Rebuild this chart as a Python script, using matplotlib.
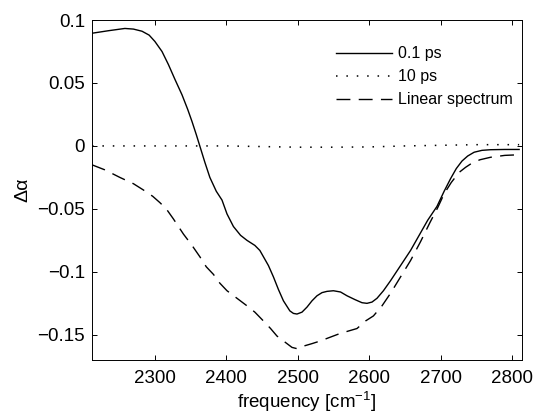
import matplotlib
matplotlib.use("Agg")
import matplotlib.pyplot as plt

plt.rcParams['font.family'] = ['Liberation Sans', 'DejaVu Sans']
plt.rcParams['mathtext.fontset'] = 'custom'
plt.rcParams['mathtext.rm'] = 'Liberation Sans'
plt.rcParams['mathtext.it'] = 'Liberation Sans:italic'

# 0.1 ps pump-probe spectrum
freq_01 = [2212, 2235, 2258, 2270, 2282, 2292, 2300, 2310, 2319, 2328, 2338,
           2346, 2352, 2358, 2364, 2370, 2377, 2386, 2394, 2401, 2410, 2420,
           2429, 2440, 2447, 2452, 2459, 2466, 2473, 2480, 2489, 2494, 2499,
           2506, 2513, 2520, 2527, 2534, 2541, 2550, 2560, 2569, 2580, 2590,
           2597, 2604, 2611, 2620, 2630, 2644, 2658, 2670, 2682, 2695, 2705,
           2714, 2722, 2730, 2738, 2747, 2758, 2770, 2790, 2810]
da_01 = [0.0895, 0.0915, 0.0933, 0.0928, 0.0911, 0.088, 0.083, 0.075, 0.0646,
         0.053, 0.0406, 0.029, 0.0194, 0.009, -0.002, -0.013, -0.025, -0.036,
         -0.043, -0.054, -0.064, -0.071, -0.075, -0.079, -0.083, -0.088,
         -0.095, -0.104, -0.114, -0.123, -0.131, -0.133, -0.1335, -0.132,
         -0.128, -0.123, -0.119, -0.1165, -0.1155, -0.115, -0.116, -0.119,
         -0.122, -0.1245, -0.125, -0.124, -0.121, -0.115, -0.107, -0.095,
         -0.083, -0.071, -0.059, -0.048, -0.036, -0.026, -0.018, -0.012,
         -0.008, -0.005, -0.0035, -0.003, -0.0028, -0.0028]

# 10 ps spectrum (essentially flat)
freq_10 = [2212, 2300, 2400, 2450, 2500, 2550, 2600, 2650, 2700, 2750, 2810]
da_10 = [0.0, 0.0, 0.0, -0.0005, -0.001, -0.001, -0.0008, 0.0, 0.0005, 0.001, 0.001]

# linear absorption spectrum (scaled, inverted)
freq_lin = [2212, 2230, 2251, 2270, 2284, 2297, 2307, 2316, 2326, 2340, 2352,
            2363, 2372, 2382, 2391, 2401, 2415, 2429, 2440, 2452, 2462, 2471,
            2485, 2492, 2499, 2508, 2520, 2531, 2545, 2559, 2571, 2583, 2595,
            2606, 2618, 2630, 2644, 2658, 2672, 2685, 2696, 2705, 2715, 2726,
            2735, 2743, 2755, 2770, 2790, 2810]
da_lin = [-0.015, -0.019, -0.025, -0.030, -0.035, -0.040, -0.045, -0.050,
          -0.058, -0.070, -0.079, -0.088, -0.096, -0.102, -0.109, -0.115,
          -0.121, -0.127, -0.132, -0.139, -0.145, -0.151, -0.157, -0.160,
          -0.161, -0.159, -0.157, -0.155, -0.152, -0.149, -0.147, -0.145,
          -0.139, -0.135, -0.127, -0.117, -0.104, -0.091, -0.076, -0.061,
          -0.049, -0.038, -0.029, -0.021, -0.017, -0.014, -0.011, -0.009,
          -0.0075, -0.007]

xticks = [2300, 2400, 2500, 2600, 2700, 2800]
yticks = [-0.15, -0.1, -0.05, 0, 0.05, 0.1]
ytick_labels = ['\u22120.15', '\u22120.1', '\u22120.05', '0', '0.05', '0.1']

fig = plt.figure(figsize=(5.34, 4.17), dpi=100)
ax = fig.add_axes([0.1723, 0.1367, 0.8052, 0.8153])

ax.plot(freq_01, da_01, color='black', lw=1.0, label='0.1 ps')
ax.plot(freq_10, da_10, color='black', lw=1.1, linestyle=(0, (1, 5.8)), label='10 ps')
ax.plot(freq_lin, da_lin, color='black', lw=1.0, linestyle=(0, (10, 6)),
        label='Linear spectrum')

ax.set_xlim(2212, 2814)
ax.set_ylim(-0.17, 0.1)
ax.set_xticks(xticks)
ax.set_yticks(yticks)
ax.set_yticklabels(ytick_labels)
ax.tick_params(direction='in', top=True, right=True, length=3.6, width=0.7,
               labelsize=13.5)
ax.tick_params(axis='x', pad=7)
ax.tick_params(axis='y', pad=5)
for s in ax.spines.values():
    s.set_linewidth(0.7)

ax.set_xlabel('frequency [cm$^{-1}$]', fontsize=13.5, labelpad=2)
ax.set_ylabel('\u0394\u03b1', fontsize=14, labelpad=4)

ax.legend(loc='upper right', frameon=False, fontsize=11.5, handlelength=3.5,
          handletextpad=0.4, labelspacing=0.5, bbox_to_anchor=(1.012, 0.965))

fig.savefig('out.png', dpi=100)
